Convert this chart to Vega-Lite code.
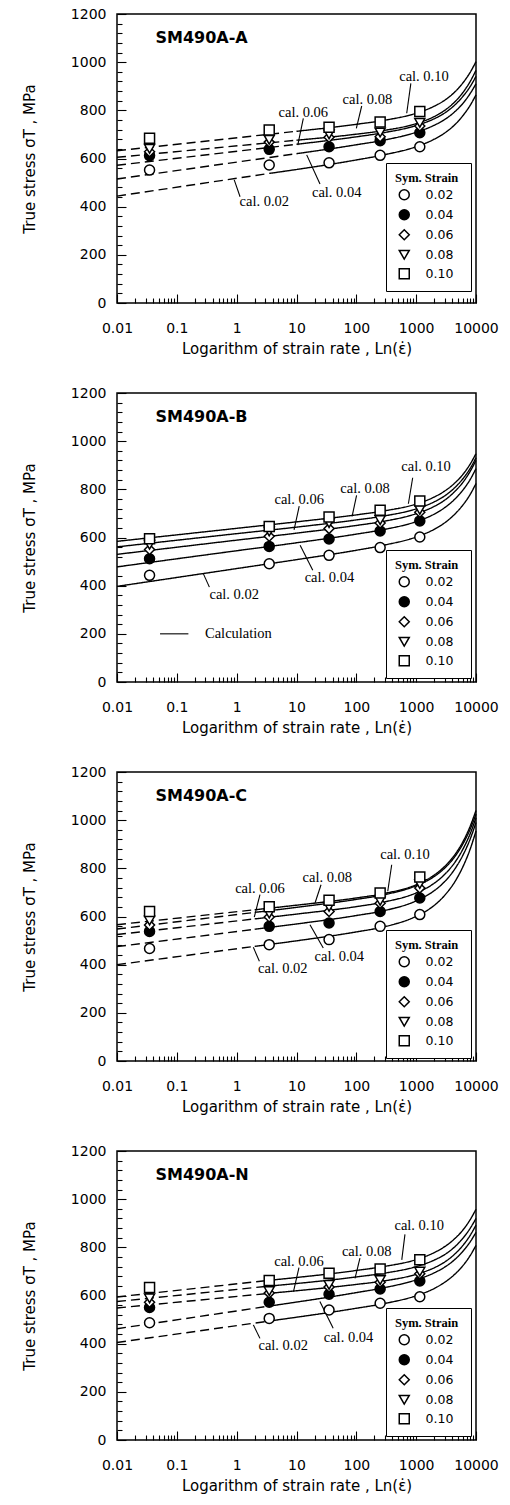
{
"$schema":"https://vega.github.io/schema/vega-lite/v6.json",
"background":"white",
"padding":{"left":21,"top":6,"right":5,"bottom":5},
"bounds":"flush",
"spacing":90,
"config":{"view":{"stroke":"black","strokeWidth":1.5},
 "axis":{"domain":false,"grid":false,"labelFont":"DejaVu Sans","labelFontSize":14,"labelColor":"black","tickColor":"black","tickWidth":1.1,"titleFont":"DejaVu Sans","titleFontSize":15,"titleFontWeight":"normal","titleColor":"black","labelFlush":false,"labelOverlap":false},
 "axisX":{"titlePadding":6},
 "axisY":{"titlePadding":33},
 "legend":{"titleFont":"Liberation Serif","titleFontSize":12.5,"titleFontWeight":"bold","titleColor":"black","labelFont":"DejaVu Sans","labelFontSize":12.5,"labelColor":"black","strokeColor":"black","fillColor":"white","padding":9,"symbolStrokeColor":"black","symbolStrokeWidth":1.5,"rowPadding":3,"labelOffset":15,"symbolOffset":3,"titlePadding":4}},
"datasets":{
"curves":[
{"p":"A","s":"0.02","g":"d","x":0.01,"y":444},{"p":"A","s":"0.02","g":"d","x":3.5,"y":538},
{"p":"A","s":"0.02","g":"s","x":3.5,"y":538},{"p":"A","s":"0.02","g":"s","x":100,"y":594},{"p":"A","s":"0.02","g":"s","x":300,"y":616},{"p":"A","s":"0.02","g":"s","x":1000,"y":649},{"p":"A","s":"0.02","g":"s","x":2000,"y":680},{"p":"A","s":"0.02","g":"s","x":3000,"y":706},{"p":"A","s":"0.02","g":"s","x":4500,"y":742},{"p":"A","s":"0.02","g":"s","x":6000,"y":777},{"p":"A","s":"0.02","g":"s","x":8000,"y":821},{"p":"A","s":"0.02","g":"s","x":10000,"y":864},
{"p":"A","s":"0.04","g":"d","x":0.01,"y":515},{"p":"A","s":"0.04","g":"d","x":10,"y":620},
{"p":"A","s":"0.04","g":"s","x":10,"y":620},{"p":"A","s":"0.04","g":"s","x":100,"y":657},{"p":"A","s":"0.04","g":"s","x":300,"y":677},{"p":"A","s":"0.04","g":"s","x":1000,"y":709},{"p":"A","s":"0.04","g":"s","x":2000,"y":738},{"p":"A","s":"0.04","g":"s","x":3000,"y":762},{"p":"A","s":"0.04","g":"s","x":4500,"y":796},{"p":"A","s":"0.04","g":"s","x":6000,"y":828},{"p":"A","s":"0.04","g":"s","x":8000,"y":870},{"p":"A","s":"0.04","g":"s","x":10000,"y":910},
{"p":"A","s":"0.06","g":"d","x":0.01,"y":572},{"p":"A","s":"0.06","g":"d","x":10,"y":659},
{"p":"A","s":"0.06","g":"s","x":10,"y":659},{"p":"A","s":"0.06","g":"s","x":100,"y":690},{"p":"A","s":"0.06","g":"s","x":300,"y":708},{"p":"A","s":"0.06","g":"s","x":1000,"y":737},{"p":"A","s":"0.06","g":"s","x":2000,"y":765},{"p":"A","s":"0.06","g":"s","x":3000,"y":789},{"p":"A","s":"0.06","g":"s","x":4500,"y":824},{"p":"A","s":"0.06","g":"s","x":6000,"y":857},{"p":"A","s":"0.06","g":"s","x":8000,"y":899},{"p":"A","s":"0.06","g":"s","x":10000,"y":941},
{"p":"A","s":"0.08","g":"d","x":0.01,"y":605},{"p":"A","s":"0.08","g":"d","x":10,"y":676},
{"p":"A","s":"0.08","g":"s","x":10,"y":676},{"p":"A","s":"0.08","g":"s","x":100,"y":701},{"p":"A","s":"0.08","g":"s","x":300,"y":717},{"p":"A","s":"0.08","g":"s","x":1000,"y":745},{"p":"A","s":"0.08","g":"s","x":2000,"y":774},{"p":"A","s":"0.08","g":"s","x":3000,"y":800},{"p":"A","s":"0.08","g":"s","x":4500,"y":837},{"p":"A","s":"0.08","g":"s","x":6000,"y":873},{"p":"A","s":"0.08","g":"s","x":8000,"y":920},{"p":"A","s":"0.08","g":"s","x":10000,"y":966},
{"p":"A","s":"0.10","g":"d","x":0.01,"y":632},{"p":"A","s":"0.10","g":"d","x":10,"y":713},
{"p":"A","s":"0.10","g":"s","x":10,"y":713},{"p":"A","s":"0.10","g":"s","x":100,"y":742},{"p":"A","s":"0.10","g":"s","x":300,"y":759},{"p":"A","s":"0.10","g":"s","x":1000,"y":788},{"p":"A","s":"0.10","g":"s","x":2000,"y":817},{"p":"A","s":"0.10","g":"s","x":3000,"y":842},{"p":"A","s":"0.10","g":"s","x":4500,"y":878},{"p":"A","s":"0.10","g":"s","x":6000,"y":913},{"p":"A","s":"0.10","g":"s","x":8000,"y":958},{"p":"A","s":"0.10","g":"s","x":10000,"y":1002},

{"p":"B","s":"0.02","g":"s","x":0.01,"y":397},{"p":"B","s":"0.02","g":"s","x":1,"y":471},{"p":"B","s":"0.02","g":"s","x":10,"y":508},{"p":"B","s":"0.02","g":"s","x":100,"y":547},{"p":"B","s":"0.02","g":"s","x":300,"y":569},{"p":"B","s":"0.02","g":"s","x":1000,"y":602},{"p":"B","s":"0.02","g":"s","x":2000,"y":634},{"p":"B","s":"0.02","g":"s","x":3000,"y":661},{"p":"B","s":"0.02","g":"s","x":4500,"y":699},{"p":"B","s":"0.02","g":"s","x":6000,"y":734},{"p":"B","s":"0.02","g":"s","x":8000,"y":779},{"p":"B","s":"0.02","g":"s","x":10000,"y":824},
{"p":"B","s":"0.04","g":"s","x":0.01,"y":478},{"p":"B","s":"0.04","g":"s","x":1,"y":545},{"p":"B","s":"0.04","g":"s","x":10,"y":578},{"p":"B","s":"0.04","g":"s","x":100,"y":614},{"p":"B","s":"0.04","g":"s","x":300,"y":634},{"p":"B","s":"0.04","g":"s","x":1000,"y":666},{"p":"B","s":"0.04","g":"s","x":2000,"y":697},{"p":"B","s":"0.04","g":"s","x":3000,"y":724},{"p":"B","s":"0.04","g":"s","x":4500,"y":761},{"p":"B","s":"0.04","g":"s","x":6000,"y":796},{"p":"B","s":"0.04","g":"s","x":8000,"y":841},{"p":"B","s":"0.04","g":"s","x":10000,"y":886},
{"p":"B","s":"0.06","g":"s","x":0.01,"y":530},{"p":"B","s":"0.06","g":"s","x":1,"y":589},{"p":"B","s":"0.06","g":"s","x":10,"y":618},{"p":"B","s":"0.06","g":"s","x":100,"y":650},{"p":"B","s":"0.06","g":"s","x":300,"y":668},{"p":"B","s":"0.06","g":"s","x":1000,"y":699},{"p":"B","s":"0.06","g":"s","x":2000,"y":729},{"p":"B","s":"0.06","g":"s","x":3000,"y":755},{"p":"B","s":"0.06","g":"s","x":4500,"y":793},{"p":"B","s":"0.06","g":"s","x":6000,"y":828},{"p":"B","s":"0.06","g":"s","x":8000,"y":875},{"p":"B","s":"0.06","g":"s","x":10000,"y":920},
{"p":"B","s":"0.08","g":"s","x":0.01,"y":561},{"p":"B","s":"0.08","g":"s","x":1,"y":616},{"p":"B","s":"0.08","g":"s","x":10,"y":643},{"p":"B","s":"0.08","g":"s","x":100,"y":673},{"p":"B","s":"0.08","g":"s","x":300,"y":690},{"p":"B","s":"0.08","g":"s","x":1000,"y":719},{"p":"B","s":"0.08","g":"s","x":2000,"y":748},{"p":"B","s":"0.08","g":"s","x":3000,"y":773},{"p":"B","s":"0.08","g":"s","x":4500,"y":809},{"p":"B","s":"0.08","g":"s","x":6000,"y":843},{"p":"B","s":"0.08","g":"s","x":8000,"y":887},{"p":"B","s":"0.08","g":"s","x":10000,"y":931},
{"p":"B","s":"0.10","g":"s","x":0.01,"y":584},{"p":"B","s":"0.10","g":"s","x":1,"y":638},{"p":"B","s":"0.10","g":"s","x":10,"y":665},{"p":"B","s":"0.10","g":"s","x":100,"y":694},{"p":"B","s":"0.10","g":"s","x":300,"y":711},{"p":"B","s":"0.10","g":"s","x":1000,"y":739},{"p":"B","s":"0.10","g":"s","x":2000,"y":768},{"p":"B","s":"0.10","g":"s","x":3000,"y":793},{"p":"B","s":"0.10","g":"s","x":4500,"y":828},{"p":"B","s":"0.10","g":"s","x":6000,"y":861},{"p":"B","s":"0.10","g":"s","x":8000,"y":905},{"p":"B","s":"0.10","g":"s","x":10000,"y":948},

{"p":"C","s":"0.02","g":"d","x":0.01,"y":400},{"p":"C","s":"0.02","g":"d","x":2,"y":476},
{"p":"C","s":"0.02","g":"s","x":2,"y":476},{"p":"C","s":"0.02","g":"s","x":10,"y":499},{"p":"C","s":"0.02","g":"s","x":100,"y":536},{"p":"C","s":"0.02","g":"s","x":300,"y":558},{"p":"C","s":"0.02","g":"s","x":1000,"y":601},{"p":"C","s":"0.02","g":"s","x":2000,"y":646},{"p":"C","s":"0.02","g":"s","x":3000,"y":688},{"p":"C","s":"0.02","g":"s","x":4500,"y":747},{"p":"C","s":"0.02","g":"s","x":6000,"y":805},{"p":"C","s":"0.02","g":"s","x":8000,"y":880},{"p":"C","s":"0.02","g":"s","x":10000,"y":955},
{"p":"C","s":"0.04","g":"d","x":0.01,"y":475},{"p":"C","s":"0.04","g":"d","x":2,"y":547},
{"p":"C","s":"0.04","g":"s","x":2,"y":547},{"p":"C","s":"0.04","g":"s","x":10,"y":569},{"p":"C","s":"0.04","g":"s","x":100,"y":604},{"p":"C","s":"0.04","g":"s","x":300,"y":625},{"p":"C","s":"0.04","g":"s","x":1000,"y":665},{"p":"C","s":"0.04","g":"s","x":2000,"y":707},{"p":"C","s":"0.04","g":"s","x":3000,"y":745},{"p":"C","s":"0.04","g":"s","x":4500,"y":800},{"p":"C","s":"0.04","g":"s","x":6000,"y":853},{"p":"C","s":"0.04","g":"s","x":8000,"y":922},{"p":"C","s":"0.04","g":"s","x":10000,"y":990},
{"p":"C","s":"0.06","g":"d","x":0.01,"y":525},{"p":"C","s":"0.06","g":"d","x":2,"y":590},
{"p":"C","s":"0.06","g":"s","x":2,"y":590},{"p":"C","s":"0.06","g":"s","x":10,"y":610},{"p":"C","s":"0.06","g":"s","x":100,"y":641},{"p":"C","s":"0.06","g":"s","x":300,"y":661},{"p":"C","s":"0.06","g":"s","x":1000,"y":698},{"p":"C","s":"0.06","g":"s","x":2000,"y":738},{"p":"C","s":"0.06","g":"s","x":3000,"y":775},{"p":"C","s":"0.06","g":"s","x":4500,"y":827},{"p":"C","s":"0.06","g":"s","x":6000,"y":878},{"p":"C","s":"0.06","g":"s","x":8000,"y":944},{"p":"C","s":"0.06","g":"s","x":10000,"y":1010},
{"p":"C","s":"0.08","g":"d","x":0.01,"y":548},{"p":"C","s":"0.08","g":"d","x":2,"y":617},
{"p":"C","s":"0.08","g":"s","x":2,"y":617},{"p":"C","s":"0.08","g":"s","x":10,"y":638},{"p":"C","s":"0.08","g":"s","x":100,"y":671},{"p":"C","s":"0.08","g":"s","x":300,"y":691},{"p":"C","s":"0.08","g":"s","x":1000,"y":728},{"p":"C","s":"0.08","g":"s","x":2000,"y":766},{"p":"C","s":"0.08","g":"s","x":3000,"y":801},{"p":"C","s":"0.08","g":"s","x":4500,"y":851},{"p":"C","s":"0.08","g":"s","x":6000,"y":900},{"p":"C","s":"0.08","g":"s","x":8000,"y":963},{"p":"C","s":"0.08","g":"s","x":10000,"y":1025},
{"p":"C","s":"0.10","g":"d","x":0.01,"y":566},{"p":"C","s":"0.10","g":"d","x":2,"y":628},
{"p":"C","s":"0.10","g":"s","x":2,"y":628},{"p":"C","s":"0.10","g":"s","x":10,"y":647},{"p":"C","s":"0.10","g":"s","x":100,"y":677},{"p":"C","s":"0.10","g":"s","x":300,"y":696},{"p":"C","s":"0.10","g":"s","x":1000,"y":732},{"p":"C","s":"0.10","g":"s","x":2000,"y":772},{"p":"C","s":"0.10","g":"s","x":3000,"y":808},{"p":"C","s":"0.10","g":"s","x":4500,"y":859},{"p":"C","s":"0.10","g":"s","x":6000,"y":909},{"p":"C","s":"0.10","g":"s","x":8000,"y":975},{"p":"C","s":"0.10","g":"s","x":10000,"y":1040},

{"p":"D","s":"0.02","g":"d","x":0.01,"y":405},{"p":"D","s":"0.02","g":"d","x":3.5,"y":494},
{"p":"D","s":"0.02","g":"s","x":3.5,"y":494},{"p":"D","s":"0.02","g":"s","x":100,"y":547},{"p":"D","s":"0.02","g":"s","x":300,"y":567},{"p":"D","s":"0.02","g":"s","x":1000,"y":599},{"p":"D","s":"0.02","g":"s","x":2000,"y":629},{"p":"D","s":"0.02","g":"s","x":3000,"y":655},{"p":"D","s":"0.02","g":"s","x":4500,"y":690},{"p":"D","s":"0.02","g":"s","x":6000,"y":723},{"p":"D","s":"0.02","g":"s","x":8000,"y":766},{"p":"D","s":"0.02","g":"s","x":10000,"y":808},
{"p":"D","s":"0.04","g":"d","x":0.01,"y":462},{"p":"D","s":"0.04","g":"d","x":3.5,"y":556},
{"p":"D","s":"0.04","g":"s","x":3.5,"y":556},{"p":"D","s":"0.04","g":"s","x":100,"y":612},{"p":"D","s":"0.04","g":"s","x":300,"y":633},{"p":"D","s":"0.04","g":"s","x":1000,"y":665},{"p":"D","s":"0.04","g":"s","x":2000,"y":694},{"p":"D","s":"0.04","g":"s","x":3000,"y":718},{"p":"D","s":"0.04","g":"s","x":4500,"y":751},{"p":"D","s":"0.04","g":"s","x":6000,"y":783},{"p":"D","s":"0.04","g":"s","x":8000,"y":823},{"p":"D","s":"0.04","g":"s","x":10000,"y":862},
{"p":"D","s":"0.06","g":"d","x":0.01,"y":548},{"p":"D","s":"0.06","g":"d","x":3.5,"y":609},
{"p":"D","s":"0.06","g":"s","x":3.5,"y":609},{"p":"D","s":"0.06","g":"s","x":100,"y":646},{"p":"D","s":"0.06","g":"s","x":300,"y":661},{"p":"D","s":"0.06","g":"s","x":1000,"y":688},{"p":"D","s":"0.06","g":"s","x":2000,"y":715},{"p":"D","s":"0.06","g":"s","x":3000,"y":739},{"p":"D","s":"0.06","g":"s","x":4500,"y":774},{"p":"D","s":"0.06","g":"s","x":6000,"y":807},{"p":"D","s":"0.06","g":"s","x":8000,"y":850},{"p":"D","s":"0.06","g":"s","x":10000,"y":892},
{"p":"D","s":"0.08","g":"d","x":0.01,"y":575},{"p":"D","s":"0.08","g":"d","x":3.5,"y":639},
{"p":"D","s":"0.08","g":"s","x":3.5,"y":639},{"p":"D","s":"0.08","g":"s","x":100,"y":677},{"p":"D","s":"0.08","g":"s","x":300,"y":693},{"p":"D","s":"0.08","g":"s","x":1000,"y":720},{"p":"D","s":"0.08","g":"s","x":2000,"y":747},{"p":"D","s":"0.08","g":"s","x":3000,"y":770},{"p":"D","s":"0.08","g":"s","x":4500,"y":804},{"p":"D","s":"0.08","g":"s","x":6000,"y":837},{"p":"D","s":"0.08","g":"s","x":8000,"y":879},{"p":"D","s":"0.08","g":"s","x":10000,"y":920},
{"p":"D","s":"0.10","g":"d","x":0.01,"y":594},{"p":"D","s":"0.10","g":"d","x":3.5,"y":663},
{"p":"D","s":"0.10","g":"s","x":3.5,"y":663},{"p":"D","s":"0.10","g":"s","x":100,"y":704},{"p":"D","s":"0.10","g":"s","x":300,"y":721},{"p":"D","s":"0.10","g":"s","x":1000,"y":749},{"p":"D","s":"0.10","g":"s","x":2000,"y":778},{"p":"D","s":"0.10","g":"s","x":3000,"y":803},{"p":"D","s":"0.10","g":"s","x":4500,"y":838},{"p":"D","s":"0.10","g":"s","x":6000,"y":871},{"p":"D","s":"0.10","g":"s","x":8000,"y":915},{"p":"D","s":"0.10","g":"s","x":10000,"y":958}
],
"pts":[
{"p":"A","s":"0.02","x":0.035,"y":552},{"p":"A","s":"0.02","x":3.5,"y":573},{"p":"A","s":"0.02","x":35,"y":582},{"p":"A","s":"0.02","x":250,"y":613},{"p":"A","s":"0.02","x":1150,"y":649},
{"p":"A","s":"0.04","x":0.035,"y":612},{"p":"A","s":"0.04","x":3.5,"y":638},{"p":"A","s":"0.04","x":35,"y":649},{"p":"A","s":"0.04","x":250,"y":674},{"p":"A","s":"0.04","x":1150,"y":707},
{"p":"A","s":"0.06","x":0.035,"y":628},{"p":"A","s":"0.06","x":3.5,"y":668},{"p":"A","s":"0.06","x":35,"y":688},{"p":"A","s":"0.06","x":250,"y":690},{"p":"A","s":"0.06","x":1150,"y":735},
{"p":"A","s":"0.08","x":0.035,"y":640},{"p":"A","s":"0.08","x":3.5,"y":678},{"p":"A","s":"0.08","x":35,"y":700},{"p":"A","s":"0.08","x":250,"y":708},{"p":"A","s":"0.08","x":1150,"y":748},
{"p":"A","s":"0.10","x":0.035,"y":684},{"p":"A","s":"0.10","x":3.5,"y":718},{"p":"A","s":"0.10","x":35,"y":730},{"p":"A","s":"0.10","x":250,"y":752},{"p":"A","s":"0.10","x":1150,"y":795},
{"p":"B","s":"0.02","x":0.035,"y":443},{"p":"B","s":"0.02","x":3.5,"y":491},{"p":"B","s":"0.02","x":35,"y":526},{"p":"B","s":"0.02","x":250,"y":558},{"p":"B","s":"0.02","x":1150,"y":602},
{"p":"B","s":"0.04","x":0.035,"y":512},{"p":"B","s":"0.04","x":3.5,"y":563},{"p":"B","s":"0.04","x":35,"y":594},{"p":"B","s":"0.04","x":250,"y":627},{"p":"B","s":"0.04","x":1150,"y":669},
{"p":"B","s":"0.06","x":0.035,"y":550},{"p":"B","s":"0.06","x":3.5,"y":605},{"p":"B","s":"0.06","x":35,"y":637},{"p":"B","s":"0.06","x":250,"y":660},{"p":"B","s":"0.06","x":1150,"y":705},
{"p":"B","s":"0.08","x":0.035,"y":570},{"p":"B","s":"0.08","x":3.5,"y":625},{"p":"B","s":"0.08","x":35,"y":660},{"p":"B","s":"0.08","x":250,"y":672},{"p":"B","s":"0.08","x":1150,"y":715},
{"p":"B","s":"0.10","x":0.035,"y":595},{"p":"B","s":"0.10","x":3.5,"y":646},{"p":"B","s":"0.10","x":35,"y":685},{"p":"B","s":"0.10","x":250,"y":713},{"p":"B","s":"0.10","x":1150,"y":752},
{"p":"C","s":"0.02","x":0.035,"y":467},{"p":"C","s":"0.02","x":3.5,"y":483},{"p":"C","s":"0.02","x":35,"y":504},{"p":"C","s":"0.02","x":250,"y":559},{"p":"C","s":"0.02","x":1150,"y":608},
{"p":"C","s":"0.04","x":0.035,"y":538},{"p":"C","s":"0.04","x":3.5,"y":559},{"p":"C","s":"0.04","x":35,"y":573},{"p":"C","s":"0.04","x":250,"y":621},{"p":"C","s":"0.04","x":1150,"y":677},
{"p":"C","s":"0.06","x":0.035,"y":565},{"p":"C","s":"0.06","x":3.5,"y":598},{"p":"C","s":"0.06","x":35,"y":621},{"p":"C","s":"0.06","x":250,"y":655},{"p":"C","s":"0.06","x":1150,"y":718},
{"p":"C","s":"0.08","x":0.035,"y":583},{"p":"C","s":"0.08","x":3.5,"y":612},{"p":"C","s":"0.08","x":35,"y":640},{"p":"C","s":"0.08","x":250,"y":665},{"p":"C","s":"0.08","x":1150,"y":735},
{"p":"C","s":"0.10","x":0.035,"y":621},{"p":"C","s":"0.10","x":3.5,"y":640},{"p":"C","s":"0.10","x":35,"y":667},{"p":"C","s":"0.10","x":250,"y":698},{"p":"C","s":"0.10","x":1150,"y":764},
{"p":"D","s":"0.02","x":0.035,"y":487},{"p":"D","s":"0.02","x":3.5,"y":505},{"p":"D","s":"0.02","x":35,"y":540},{"p":"D","s":"0.02","x":250,"y":568},{"p":"D","s":"0.02","x":1150,"y":595},
{"p":"D","s":"0.04","x":0.035,"y":550},{"p":"D","s":"0.04","x":3.5,"y":572},{"p":"D","s":"0.04","x":35,"y":605},{"p":"D","s":"0.04","x":250,"y":627},{"p":"D","s":"0.04","x":1150,"y":660},
{"p":"D","s":"0.06","x":0.035,"y":572},{"p":"D","s":"0.06","x":3.5,"y":610},{"p":"D","s":"0.06","x":35,"y":635},{"p":"D","s":"0.06","x":250,"y":655},{"p":"D","s":"0.06","x":1150,"y":690},
{"p":"D","s":"0.08","x":0.035,"y":588},{"p":"D","s":"0.08","x":3.5,"y":618},{"p":"D","s":"0.08","x":35,"y":644},{"p":"D","s":"0.08","x":250,"y":664},{"p":"D","s":"0.08","x":1150,"y":699},
{"p":"D","s":"0.10","x":0.035,"y":633},{"p":"D","s":"0.10","x":3.5,"y":662},{"p":"D","s":"0.10","x":35,"y":692},{"p":"D","s":"0.10","x":250,"y":710},{"p":"D","s":"0.10","x":1150,"y":748}
],
"ann":[
{"p":"A","x":1350,"y":937,"t":"cal. 0.10"},{"p":"A","x":153,"y":843,"t":"cal. 0.08"},{"p":"A","x":13,"y":788,"t":"cal. 0.06"},{"p":"A","x":47,"y":458,"t":"cal. 0.04"},{"p":"A","x":2.9,"y":421,"t":"cal. 0.02"},
{"p":"B","x":1462,"y":893,"t":"cal. 0.10"},{"p":"B","x":140,"y":803,"t":"cal. 0.08"},{"p":"B","x":11.1,"y":755,"t":"cal. 0.06"},{"p":"B","x":35.5,"y":433,"t":"cal. 0.04"},{"p":"B","x":0.91,"y":361,"t":"cal. 0.02"},{"p":"B","x":1.07,"y":200,"t":"Calculation"},
{"p":"C","x":650,"y":857,"t":"cal. 0.10"},{"p":"C","x":32.7,"y":760,"t":"cal. 0.08"},{"p":"C","x":2.45,"y":716,"t":"cal. 0.06"},{"p":"C","x":52,"y":430,"t":"cal. 0.04"},{"p":"C","x":5.9,"y":383,"t":"cal. 0.02"},
{"p":"D","x":1125,"y":890,"t":"cal. 0.10"},{"p":"D","x":149,"y":782,"t":"cal. 0.08"},{"p":"D","x":11,"y":741,"t":"cal. 0.06"},{"p":"D","x":74,"y":425,"t":"cal. 0.04"},{"p":"D","x":6.0,"y":392,"t":"cal. 0.02"}
],
"lead":[
{"p":"A","x":815,"y":912,"x2":695,"y2":788},{"p":"A","x":123,"y":818,"x2":100,"y2":725},{"p":"A","x":13,"y":767,"x2":10.5,"y2":656},{"p":"A","x":24.7,"y":494,"x2":14.8,"y2":615},{"p":"A","x":1.14,"y":441,"x2":0.91,"y2":511},
{"p":"B","x":875,"y":848,"x2":741,"y2":740},{"p":"B","x":101,"y":775,"x2":85,"y2":688},{"p":"B","x":11.1,"y":730,"x2":9.1,"y2":632},{"p":"B","x":18.7,"y":464,"x2":11.5,"y2":568},{"p":"B","x":0.35,"y":394,"x2":0.277,"y2":450},{"p":"B","x":0.0524,"y":200,"x2":0.156,"y2":200},
{"p":"C","x":390,"y":815,"x2":335,"y2":705},{"p":"C","x":25.7,"y":732,"x2":20.4,"y2":656},{"p":"C","x":2.45,"y":691,"x2":1.97,"y2":597},{"p":"C","x":28,"y":469,"x2":16.8,"y2":566},{"p":"C","x":2.4,"y":414,"x2":1.9,"y2":472},
{"p":"D","x":650,"y":854,"x2":575,"y2":748},{"p":"D","x":115,"y":755,"x2":95,"y2":671},{"p":"D","x":11,"y":716,"x2":8.9,"y2":616},{"p":"D","x":41,"y":464,"x2":24.6,"y2":575},{"p":"D","x":2.45,"y":422,"x2":1.9,"y2":478}
],
"ttl":[
{"p":"A","x":0.044,"y":1100,"t":"SM490A-A"},{"p":"B","x":0.044,"y":1100,"t":"SM490A-B"},{"p":"C","x":0.044,"y":1100,"t":"SM490A-C"},{"p":"D","x":0.044,"y":1100,"t":"SM490A-N"}
]
},
"resolve":{"scale":{"x":"independent","y":"independent","shape":"independent","fill":"independent","size":"independent","stroke":"independent","strokeDash":"independent"},"legend":{"shape":"independent","fill":"independent","size":"independent","stroke":"independent"}},
"vconcat":[
{"width":359,"height":289,"resolve":{"axis":{"x":"independent","y":"independent"}},
"layer":[
{"data":{"name":"curves"},"transform":[{"filter":"datum.p=='A'"}],"mark":{"type":"line","interpolate":"monotone","color":"black","strokeWidth":1.4},
 "encoding":{"x":{"field":"x","type":"quantitative","scale":{"type":"log","domain":[0.01,10000],"nice":false},"axis":{"orient":"bottom","values":[0.01,0.1,1,10,100,1000,10000],"format":"~g","ticks":false,"labelPadding":18,"title":"Logarithm of strain rate , Ln(ε̇)"}},
  "y":{"field":"y","type":"quantitative","scale":{"domain":[0,1200],"nice":false},"axis":{"orient":"left","values":[0,200,400,600,800,1000,1200],"format":"d","ticks":false,"labelPadding":11,"title":"True stress σT , MPa"}},
  "detail":{"field":"s"},
  "strokeDash":{"field":"g","type":"nominal","scale":{"domain":["d","s"],"range":[[9,5],[1,0]]},"legend":null}}},
{"data":{"name":"lead"},"transform":[{"filter":"datum.p=='A'"}],"mark":{"type":"rule","color":"black","strokeWidth":1.1},
 "encoding":{"x":{"field":"x","type":"quantitative","axis":{"orient":"bottom","values":[0.01,0.1,1,10,100,1000,10000],"labels":false,"ticks":true,"tickSize":9,"offset":-9,"title":null}},"x2":{"field":"x2"},
  "y":{"field":"y","type":"quantitative","axis":{"orient":"left","values":[0,200,400,600,800,1000,1200],"labels":false,"ticks":true,"tickSize":9,"offset":-9,"title":null}},"y2":{"field":"y2"}}},
{"data":{"name":"pts"},"transform":[{"filter":"datum.p=='A'"}],"mark":{"type":"point","filled":true,"strokeWidth":1.5,"opacity":1},
 "encoding":{"x":{"field":"x","type":"quantitative","axis":{"orient":"bottom","values":[0.02,0.03,0.04,0.05,0.06,0.07,0.08,0.09,0.2,0.3,0.4,0.5,0.6,0.7,0.8,0.9,2,3,4,5,6,7,8,9,20,30,40,50,60,70,80,90,200,300,400,500,600,700,800,900,2000,3000,4000,5000,6000,7000,8000,9000],"labels":false,"ticks":true,"tickSize":5,"offset":-5,"title":null}},
  "y":{"field":"y","type":"quantitative","axis":{"orient":"left","values":[40,80,120,160,240,280,320,360,440,480,520,560,640,680,720,760,840,880,920,960,1040,1080,1120,1160],"labels":false,"ticks":true,"tickSize":5,"offset":-5,"title":null}},
  "shape":{"field":"s","type":"nominal","scale":{"domain":["0.02","0.04","0.06","0.08","0.10"],"range":["circle","circle","diamond","triangle-down","square"]},"legend":{"orient":"none","legendX":269,"legendY":149,"title":"Sym.  Strain"}},
  "fill":{"field":"s","type":"nominal","scale":{"domain":["0.02","0.04","0.06","0.08","0.10"],"range":["white","black","white","white","white"]},"legend":{"orient":"none","legendX":269,"legendY":149,"title":"Sym.  Strain"}},
  "stroke":{"field":"s","type":"nominal","scale":{"domain":["0.02","0.04","0.06","0.08","0.10"],"range":["black","black","black","black","black"]},"legend":{"orient":"none","legendX":269,"legendY":149,"title":"Sym.  Strain"}},
  "size":{"field":"s","type":"nominal","scale":{"domain":["0.02","0.04","0.06","0.08","0.10"],"range":[100,100,60,85,100]},"legend":{"orient":"none","legendX":269,"legendY":149,"title":"Sym.  Strain"}}}},
{"data":{"name":"ann"},"transform":[{"filter":"datum.p=='A'"}],"mark":{"type":"text","font":"Liberation Serif","fontSize":14.5,"color":"black","align":"center","baseline":"middle"},
 "encoding":{"x":{"field":"x","type":"quantitative","axis":null},"y":{"field":"y","type":"quantitative","axis":null},"text":{"field":"t"}}},
{"data":{"name":"ttl"},"transform":[{"filter":"datum.p=='A'"}],"mark":{"type":"text","font":"DejaVu Sans","fontSize":16,"fontWeight":"bold","color":"black","align":"left","baseline":"middle"},
 "encoding":{"x":{"field":"x","type":"quantitative","axis":null},"y":{"field":"y","type":"quantitative","axis":null},"text":{"field":"t"}}}
]},
{"width":359,"height":289,"resolve":{"axis":{"x":"independent","y":"independent"}},
"layer":[
{"data":{"name":"curves"},"transform":[{"filter":"datum.p=='B'"}],"mark":{"type":"line","interpolate":"monotone","color":"black","strokeWidth":1.4},
 "encoding":{"x":{"field":"x","type":"quantitative","scale":{"type":"log","domain":[0.01,10000],"nice":false},"axis":{"orient":"bottom","values":[0.01,0.1,1,10,100,1000,10000],"format":"~g","ticks":false,"labelPadding":18,"title":"Logarithm of strain rate , Ln(ε̇)"}},
  "y":{"field":"y","type":"quantitative","scale":{"domain":[0,1200],"nice":false},"axis":{"orient":"left","values":[0,200,400,600,800,1000,1200],"format":"d","ticks":false,"labelPadding":11,"title":"True stress σT , MPa"}},
  "detail":{"field":"s"},
  "strokeDash":{"field":"g","type":"nominal","scale":{"domain":["d","s"],"range":[[9,5],[1,0]]},"legend":null}}},
{"data":{"name":"lead"},"transform":[{"filter":"datum.p=='B'"}],"mark":{"type":"rule","color":"black","strokeWidth":1.1},
 "encoding":{"x":{"field":"x","type":"quantitative","axis":{"orient":"bottom","values":[0.01,0.1,1,10,100,1000,10000],"labels":false,"ticks":true,"tickSize":9,"offset":-9,"title":null}},"x2":{"field":"x2"},
  "y":{"field":"y","type":"quantitative","axis":{"orient":"left","values":[0,200,400,600,800,1000,1200],"labels":false,"ticks":true,"tickSize":9,"offset":-9,"title":null}},"y2":{"field":"y2"}}},
{"data":{"name":"pts"},"transform":[{"filter":"datum.p=='B'"}],"mark":{"type":"point","filled":true,"strokeWidth":1.5,"opacity":1},
 "encoding":{"x":{"field":"x","type":"quantitative","axis":{"orient":"bottom","values":[0.02,0.03,0.04,0.05,0.06,0.07,0.08,0.09,0.2,0.3,0.4,0.5,0.6,0.7,0.8,0.9,2,3,4,5,6,7,8,9,20,30,40,50,60,70,80,90,200,300,400,500,600,700,800,900,2000,3000,4000,5000,6000,7000,8000,9000],"labels":false,"ticks":true,"tickSize":5,"offset":-5,"title":null}},
  "y":{"field":"y","type":"quantitative","axis":{"orient":"left","values":[40,80,120,160,240,280,320,360,440,480,520,560,640,680,720,760,840,880,920,960,1040,1080,1120,1160],"labels":false,"ticks":true,"tickSize":5,"offset":-5,"title":null}},
  "shape":{"field":"s","type":"nominal","scale":{"domain":["0.02","0.04","0.06","0.08","0.10"],"range":["circle","circle","diamond","triangle-down","square"]},"legend":{"orient":"none","legendX":269,"legendY":157,"title":"Sym.  Strain"}},
  "fill":{"field":"s","type":"nominal","scale":{"domain":["0.02","0.04","0.06","0.08","0.10"],"range":["white","black","white","white","white"]},"legend":{"orient":"none","legendX":269,"legendY":157,"title":"Sym.  Strain"}},
  "stroke":{"field":"s","type":"nominal","scale":{"domain":["0.02","0.04","0.06","0.08","0.10"],"range":["black","black","black","black","black"]},"legend":{"orient":"none","legendX":269,"legendY":157,"title":"Sym.  Strain"}},
  "size":{"field":"s","type":"nominal","scale":{"domain":["0.02","0.04","0.06","0.08","0.10"],"range":[100,100,60,85,100]},"legend":{"orient":"none","legendX":269,"legendY":157,"title":"Sym.  Strain"}}}},
{"data":{"name":"ann"},"transform":[{"filter":"datum.p=='B'"}],"mark":{"type":"text","font":"Liberation Serif","fontSize":14.5,"color":"black","align":"center","baseline":"middle"},
 "encoding":{"x":{"field":"x","type":"quantitative","axis":null},"y":{"field":"y","type":"quantitative","axis":null},"text":{"field":"t"}}},
{"data":{"name":"ttl"},"transform":[{"filter":"datum.p=='B'"}],"mark":{"type":"text","font":"DejaVu Sans","fontSize":16,"fontWeight":"bold","color":"black","align":"left","baseline":"middle"},
 "encoding":{"x":{"field":"x","type":"quantitative","axis":null},"y":{"field":"y","type":"quantitative","axis":null},"text":{"field":"t"}}}
]},
{"width":359,"height":289,"resolve":{"axis":{"x":"independent","y":"independent"}},
"layer":[
{"data":{"name":"curves"},"transform":[{"filter":"datum.p=='C'"}],"mark":{"type":"line","interpolate":"monotone","color":"black","strokeWidth":1.4},
 "encoding":{"x":{"field":"x","type":"quantitative","scale":{"type":"log","domain":[0.01,10000],"nice":false},"axis":{"orient":"bottom","values":[0.01,0.1,1,10,100,1000,10000],"format":"~g","ticks":false,"labelPadding":18,"title":"Logarithm of strain rate , Ln(ε̇)"}},
  "y":{"field":"y","type":"quantitative","scale":{"domain":[0,1200],"nice":false},"axis":{"orient":"left","values":[0,200,400,600,800,1000,1200],"format":"d","ticks":false,"labelPadding":11,"title":"True stress σT , MPa"}},
  "detail":{"field":"s"},
  "strokeDash":{"field":"g","type":"nominal","scale":{"domain":["d","s"],"range":[[9,5],[1,0]]},"legend":null}}},
{"data":{"name":"lead"},"transform":[{"filter":"datum.p=='C'"}],"mark":{"type":"rule","color":"black","strokeWidth":1.1},
 "encoding":{"x":{"field":"x","type":"quantitative","axis":{"orient":"bottom","values":[0.01,0.1,1,10,100,1000,10000],"labels":false,"ticks":true,"tickSize":9,"offset":-9,"title":null}},"x2":{"field":"x2"},
  "y":{"field":"y","type":"quantitative","axis":{"orient":"left","values":[0,200,400,600,800,1000,1200],"labels":false,"ticks":true,"tickSize":9,"offset":-9,"title":null}},"y2":{"field":"y2"}}},
{"data":{"name":"pts"},"transform":[{"filter":"datum.p=='C'"}],"mark":{"type":"point","filled":true,"strokeWidth":1.5,"opacity":1},
 "encoding":{"x":{"field":"x","type":"quantitative","axis":{"orient":"bottom","values":[0.02,0.03,0.04,0.05,0.06,0.07,0.08,0.09,0.2,0.3,0.4,0.5,0.6,0.7,0.8,0.9,2,3,4,5,6,7,8,9,20,30,40,50,60,70,80,90,200,300,400,500,600,700,800,900,2000,3000,4000,5000,6000,7000,8000,9000],"labels":false,"ticks":true,"tickSize":5,"offset":-5,"title":null}},
  "y":{"field":"y","type":"quantitative","axis":{"orient":"left","values":[40,80,120,160,240,280,320,360,440,480,520,560,640,680,720,760,840,880,920,960,1040,1080,1120,1160],"labels":false,"ticks":true,"tickSize":5,"offset":-5,"title":null}},
  "shape":{"field":"s","type":"nominal","scale":{"domain":["0.02","0.04","0.06","0.08","0.10"],"range":["circle","circle","diamond","triangle-down","square"]},"legend":{"orient":"none","legendX":269,"legendY":158,"title":"Sym.  Strain"}},
  "fill":{"field":"s","type":"nominal","scale":{"domain":["0.02","0.04","0.06","0.08","0.10"],"range":["white","black","white","white","white"]},"legend":{"orient":"none","legendX":269,"legendY":158,"title":"Sym.  Strain"}},
  "stroke":{"field":"s","type":"nominal","scale":{"domain":["0.02","0.04","0.06","0.08","0.10"],"range":["black","black","black","black","black"]},"legend":{"orient":"none","legendX":269,"legendY":158,"title":"Sym.  Strain"}},
  "size":{"field":"s","type":"nominal","scale":{"domain":["0.02","0.04","0.06","0.08","0.10"],"range":[100,100,60,85,100]},"legend":{"orient":"none","legendX":269,"legendY":158,"title":"Sym.  Strain"}}}},
{"data":{"name":"ann"},"transform":[{"filter":"datum.p=='C'"}],"mark":{"type":"text","font":"Liberation Serif","fontSize":14.5,"color":"black","align":"center","baseline":"middle"},
 "encoding":{"x":{"field":"x","type":"quantitative","axis":null},"y":{"field":"y","type":"quantitative","axis":null},"text":{"field":"t"}}},
{"data":{"name":"ttl"},"transform":[{"filter":"datum.p=='C'"}],"mark":{"type":"text","font":"DejaVu Sans","fontSize":16,"fontWeight":"bold","color":"black","align":"left","baseline":"middle"},
 "encoding":{"x":{"field":"x","type":"quantitative","axis":null},"y":{"field":"y","type":"quantitative","axis":null},"text":{"field":"t"}}}
]},
{"width":359,"height":289,"resolve":{"axis":{"x":"independent","y":"independent"}},
"layer":[
{"data":{"name":"curves"},"transform":[{"filter":"datum.p=='D'"}],"mark":{"type":"line","interpolate":"monotone","color":"black","strokeWidth":1.4},
 "encoding":{"x":{"field":"x","type":"quantitative","scale":{"type":"log","domain":[0.01,10000],"nice":false},"axis":{"orient":"bottom","values":[0.01,0.1,1,10,100,1000,10000],"format":"~g","ticks":false,"labelPadding":18,"title":"Logarithm of strain rate , Ln(ε̇)"}},
  "y":{"field":"y","type":"quantitative","scale":{"domain":[0,1200],"nice":false},"axis":{"orient":"left","values":[0,200,400,600,800,1000,1200],"format":"d","ticks":false,"labelPadding":11,"title":"True stress σT , MPa"}},
  "detail":{"field":"s"},
  "strokeDash":{"field":"g","type":"nominal","scale":{"domain":["d","s"],"range":[[9,5],[1,0]]},"legend":null}}},
{"data":{"name":"lead"},"transform":[{"filter":"datum.p=='D'"}],"mark":{"type":"rule","color":"black","strokeWidth":1.1},
 "encoding":{"x":{"field":"x","type":"quantitative","axis":{"orient":"bottom","values":[0.01,0.1,1,10,100,1000,10000],"labels":false,"ticks":true,"tickSize":9,"offset":-9,"title":null}},"x2":{"field":"x2"},
  "y":{"field":"y","type":"quantitative","axis":{"orient":"left","values":[0,200,400,600,800,1000,1200],"labels":false,"ticks":true,"tickSize":9,"offset":-9,"title":null}},"y2":{"field":"y2"}}},
{"data":{"name":"pts"},"transform":[{"filter":"datum.p=='D'"}],"mark":{"type":"point","filled":true,"strokeWidth":1.5,"opacity":1},
 "encoding":{"x":{"field":"x","type":"quantitative","axis":{"orient":"bottom","values":[0.02,0.03,0.04,0.05,0.06,0.07,0.08,0.09,0.2,0.3,0.4,0.5,0.6,0.7,0.8,0.9,2,3,4,5,6,7,8,9,20,30,40,50,60,70,80,90,200,300,400,500,600,700,800,900,2000,3000,4000,5000,6000,7000,8000,9000],"labels":false,"ticks":true,"tickSize":5,"offset":-5,"title":null}},
  "y":{"field":"y","type":"quantitative","axis":{"orient":"left","values":[40,80,120,160,240,280,320,360,440,480,520,560,640,680,720,760,840,880,920,960,1040,1080,1120,1160],"labels":false,"ticks":true,"tickSize":5,"offset":-5,"title":null}},
  "shape":{"field":"s","type":"nominal","scale":{"domain":["0.02","0.04","0.06","0.08","0.10"],"range":["circle","circle","diamond","triangle-down","square"]},"legend":{"orient":"none","legendX":269,"legendY":157,"title":"Sym.  Strain"}},
  "fill":{"field":"s","type":"nominal","scale":{"domain":["0.02","0.04","0.06","0.08","0.10"],"range":["white","black","white","white","white"]},"legend":{"orient":"none","legendX":269,"legendY":157,"title":"Sym.  Strain"}},
  "stroke":{"field":"s","type":"nominal","scale":{"domain":["0.02","0.04","0.06","0.08","0.10"],"range":["black","black","black","black","black"]},"legend":{"orient":"none","legendX":269,"legendY":157,"title":"Sym.  Strain"}},
  "size":{"field":"s","type":"nominal","scale":{"domain":["0.02","0.04","0.06","0.08","0.10"],"range":[100,100,60,85,100]},"legend":{"orient":"none","legendX":269,"legendY":157,"title":"Sym.  Strain"}}}},
{"data":{"name":"ann"},"transform":[{"filter":"datum.p=='D'"}],"mark":{"type":"text","font":"Liberation Serif","fontSize":14.5,"color":"black","align":"center","baseline":"middle"},
 "encoding":{"x":{"field":"x","type":"quantitative","axis":null},"y":{"field":"y","type":"quantitative","axis":null},"text":{"field":"t"}}},
{"data":{"name":"ttl"},"transform":[{"filter":"datum.p=='D'"}],"mark":{"type":"text","font":"DejaVu Sans","fontSize":16,"fontWeight":"bold","color":"black","align":"left","baseline":"middle"},
 "encoding":{"x":{"field":"x","type":"quantitative","axis":null},"y":{"field":"y","type":"quantitative","axis":null},"text":{"field":"t"}}}
]}
]
}
